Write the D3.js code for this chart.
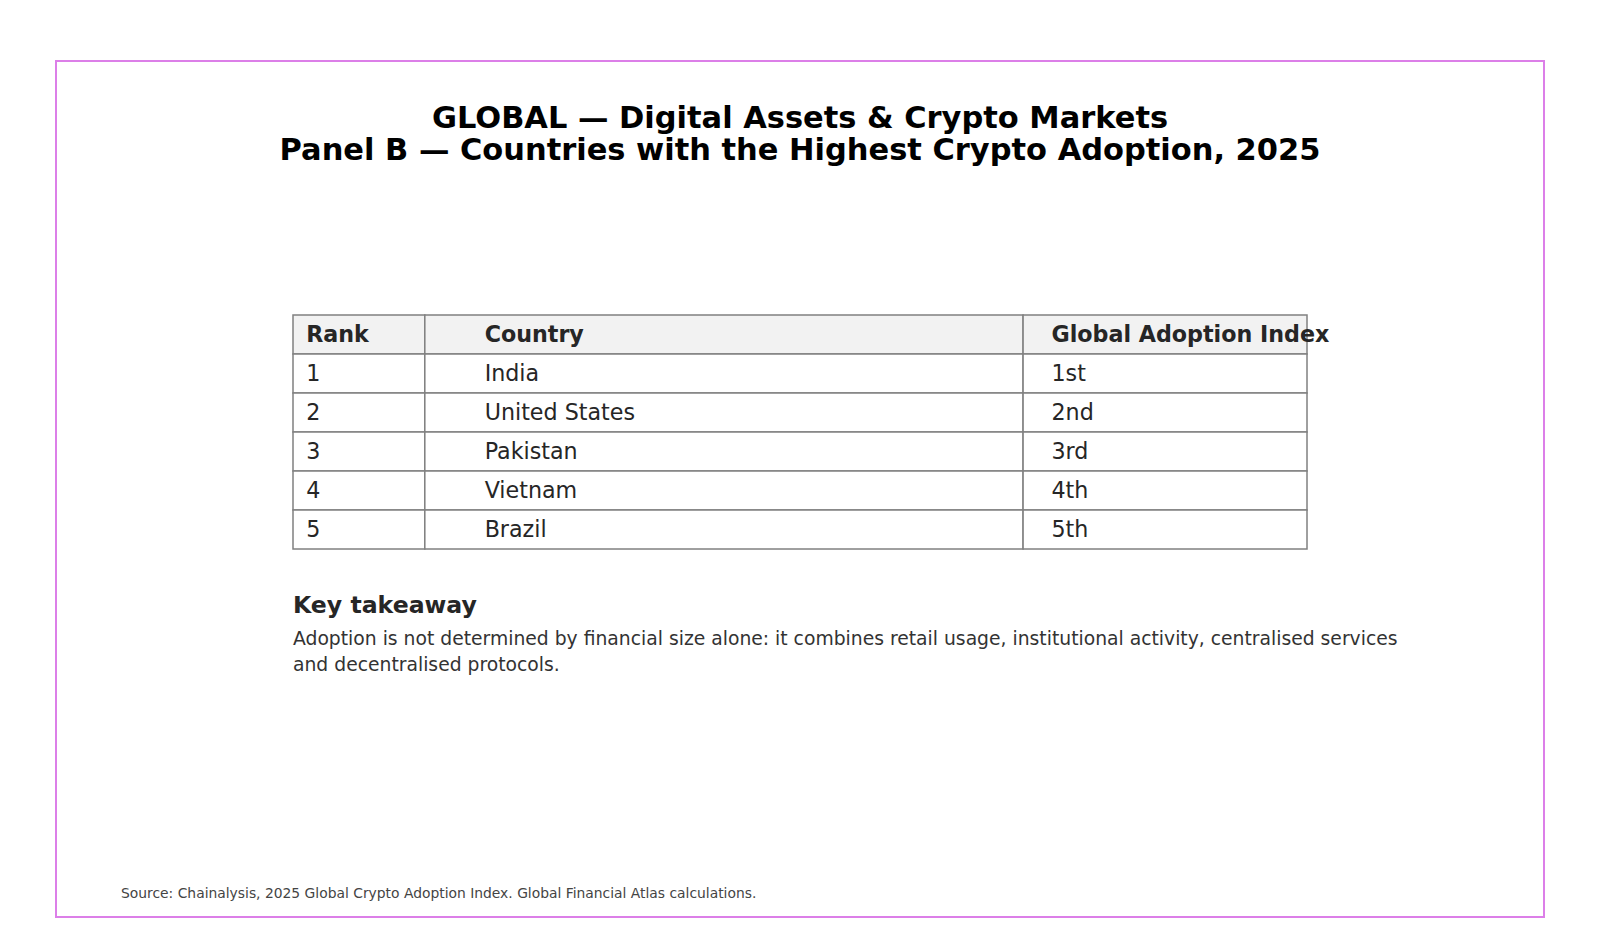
<!DOCTYPE html>
<html>
<head>
<meta charset="utf-8">
<script src="https://cdn.jsdelivr.net/npm/d3@7"></script>
<style>
  html, body { margin: 0; padding: 0; background: #fff; }
</style>
</head>
<body>
<div class="chart"></div>
<script>
// table data
const headers = ["Rank", "Country", "Global Adoption Index"];
const ranks = ["1", "2", "3", "4", "5"];
const countries = ["India", "United States", "Pakistan", "Vietnam", "Brazil"];
const adoptionIndex = ["1st", "2nd", "3rd", "4th", "5th"];

const titleLines = [
  "GLOBAL \u2014 Digital Assets & Crypto Markets",
  "Panel B \u2014 Countries with the Highest Crypto Adoption, 2025"
];
const takeawayTitle = "Key takeaway";
const takeawayLines = [
  "Adoption is not determined by financial size alone: it combines retail usage, institutional activity, centralised services",
  "and decentralised protocols."
];
const sourceText = "Source: Chainalysis, 2025 Global Crypto Adoption Index. Global Financial Atlas calculations.";

const w = 1600, h = 940;
const FONT = "DejaVu Sans";

const svg = d3.select(".chart").append("svg")
  .attr("width", w)
  .attr("height", h);

// work out a font size from the width a string should take
function fitSize(str, weight, target) {
  const t = svg.append("text")
    .attr("font-family", FONT)
    .attr("font-weight", weight)
    .attr("font-size", 100)
    .text(str);
  const len = t.node().getComputedTextLength();
  t.remove();
  return 100 * target / len;
}

const titleSize = fitSize(titleLines[1], "bold", 1041);
const cellSize = fitSize(headers[2], "bold", 278);
const keySize = fitSize(takeawayTitle, "bold", 184);
const bodySize = fitSize(takeawayLines[0], "normal", 1105);
const sourceSize = fitSize(sourceText, "normal", 636);

// frame
svg.append("rect")
  .attr("x", 56).attr("y", 61)
  .attr("width", 1488).attr("height", 856)
  .attr("fill", "none")
  .attr("stroke", "#dc7fe8")
  .attr("stroke-width", 2);

// title
svg.selectAll(".title")
  .data(titleLines)
  .enter()
  .append("text")
  .attr("class", "title")
  .attr("x", w / 2)
  .attr("y", (d, i) => 128 + i * 32)
  .attr("text-anchor", "middle")
  .attr("font-family", FONT)
  .attr("font-weight", "bold")
  .attr("font-size", titleSize)
  .attr("fill", "#000")
  .text(d => d);

// table
const rows = [headers].concat(ranks.map((r, i) => [r, countries[i], adoptionIndex[i]]));
const colWidths = [0.13, 0.59, 0.28];
const tableLeft = 293, tableRight = 1307, tableTop = 315, tableBottom = 549;

const colX = d3.scaleLinear().domain([0, 1]).range([tableLeft, tableRight]);
const colStart = colWidths.map((c, i) => d3.sum(colWidths.slice(0, i)));
const rowY = d3.scaleBand()
  .domain(d3.range(rows.length))
  .range([tableTop, tableBottom]);

const cells = [];
rows.forEach((row, r) => {
  row.forEach((val, c) => {
    cells.push({ r, c, val });
  });
});

const cellG = svg.append("g").attr("class", "table");

cellG.selectAll("rect")
  .data(cells)
  .enter()
  .append("rect")
  .attr("x", d => colX(colStart[d.c]))
  .attr("y", d => rowY(d.r))
  .attr("width", d => colX(colWidths[d.c]) - colX(0))
  .attr("height", rowY.bandwidth())
  .attr("fill", d => d.r === 0 ? "#f2f2f2" : "#fff")
  .attr("stroke", "#808080")
  .attr("stroke-width", 1.5);

cellG.selectAll("text")
  .data(cells)
  .enter()
  .append("text")
  .attr("x", d => colX(colStart[d.c]) + 0.1 * (colX(colWidths[d.c]) - colX(0)))
  .attr("y", d => rowY(d.r) + rowY.bandwidth() / 2 + cellSize * 0.364 - 1)
  .attr("font-family", FONT)
  .attr("font-weight", d => d.r === 0 ? "bold" : "normal")
  .attr("font-size", cellSize)
  .attr("fill", "#262626")
  .text(d => d.val);

// key takeaway
svg.append("text")
  .attr("x", 293)
  .attr("y", 613)
  .attr("font-family", FONT)
  .attr("font-weight", "bold")
  .attr("font-size", keySize)
  .attr("fill", "#262626")
  .text(takeawayTitle);

svg.selectAll(".body")
  .data(takeawayLines)
  .enter()
  .append("text")
  .attr("class", "body")
  .attr("x", 293)
  .attr("y", (d, i) => 645 + i * 26)
  .attr("font-family", FONT)
  .attr("font-size", bodySize)
  .attr("fill", "#333")
  .text(d => d);

// source
svg.append("text")
  .attr("x", 121)
  .attr("y", 898)
  .attr("font-family", FONT)
  .attr("font-size", sourceSize)
  .attr("fill", "#444")
  .text(sourceText);
</script>
</body>
</html>
